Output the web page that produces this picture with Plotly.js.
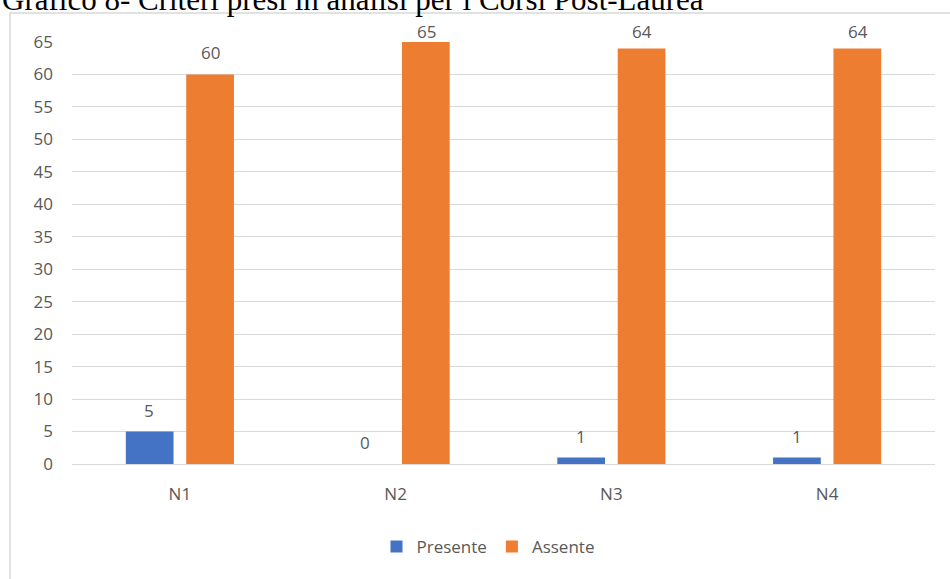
<!DOCTYPE html>
<html>
<head>
<meta charset="utf-8">
<script src="https://cdn.plot.ly/plotly-3.0.1.min.js"></script>
<style>html,body{margin:0;padding:0;background:#fff;}#chart{width:950px;height:579px;}</style>
</head>
<body>
<div id="chart"></div>
<script>
const categories = ["N1", "N2", "N3", "N4"];
const presente = [5, 0, 1, 1];
const assente = [60, 65, 64, 64];
const yTicks = [0, 5, 10, 15, 20, 25, 30, 35, 40, 45, 50, 55, 60, 65];
const titleText = "Grafico 8- Criteri presi in analisi per i Corsi Post-Laurea";

const labelFont = {family: "Open Sans, Liberation Sans, sans-serif", size: 17, color: "#595959"};

const traces = [
  {type: "bar", name: "Presente", x: categories, y: presente, marker: {color: "#4472C4"}, hoverinfo: "skip"},
  {type: "bar", name: "Assente", x: categories, y: assente, marker: {color: "#ED7D31"}, hoverinfo: "skip"}
];

const L = 72, R = 15, T = 42, B = 115, W = 950, H = 579;
const pw = W - L - R, ph = H - T - B;
const px = v => (v - L) / pw;
const py = v => (H - B - v) / ph;
const yMax = 65;

const annotations = [];
const seriesList = [presente, assente];
const shifts = [-30.5, 30.5];
seriesList.forEach((vals, s) => {
  vals.forEach((v, i) => {
    // like the original, labels near the top are kept inside the chart frame
    const room = (yMax - v) / yMax * ph;
    annotations.push({
      x: categories[i], y: v, xref: "x", yref: "y",
      text: String(v), showarrow: false, yanchor: "bottom",
      xshift: shifts[s], yshift: Math.min(8, room - 3), font: labelFont
    });
  });
});
annotations.push({
  text: titleText, xref: "paper", yref: "paper",
  x: px(0), xanchor: "left", y: py(19), yanchor: "bottom",
  showarrow: false, font: {family: "Liberation Serif, Times New Roman, serif", size: 31, color: "#000000"}
});

const layout = {
  width: W, height: H,
  margin: {l: L, r: R, t: T, b: B},
  paper_bgcolor: "#ffffff", plot_bgcolor: "#ffffff",
  barmode: "group", bargap: 0.44, bargroupgap: 0.21,
  showlegend: true,
  legend: {orientation: "h", x: px(488), xanchor: "center", y: py(547), yanchor: "middle",
    font: labelFont, itemwidth: 30, traceorder: "normal"},
  xaxis: {tickfont: labelFont, showgrid: false, zeroline: false, showline: false, ticks: "", ticklabelstandoff: 18},
  yaxis: {range: [0, yMax], tickvals: yTicks, tickfont: labelFont, gridcolor: "#d9d9d9", gridwidth: 1,
    zeroline: true, zerolinecolor: "#d9d9d9", zerolinewidth: 1, showline: false, ticks: "", ticklabelstandoff: 18},
  annotations: annotations,
  shapes: [{
    type: "rect", xref: "paper", yref: "paper",
    x0: px(10), x1: px(960), y0: py(600), y1: py(13),
    line: {color: "#d9d9d9", width: 1.5}, fillcolor: "rgba(0,0,0,0)", layer: "below"
  }]
};

Plotly.newPlot("chart", traces, layout, {staticPlot: true, displayModeBar: false});
</script>
</body>
</html>
